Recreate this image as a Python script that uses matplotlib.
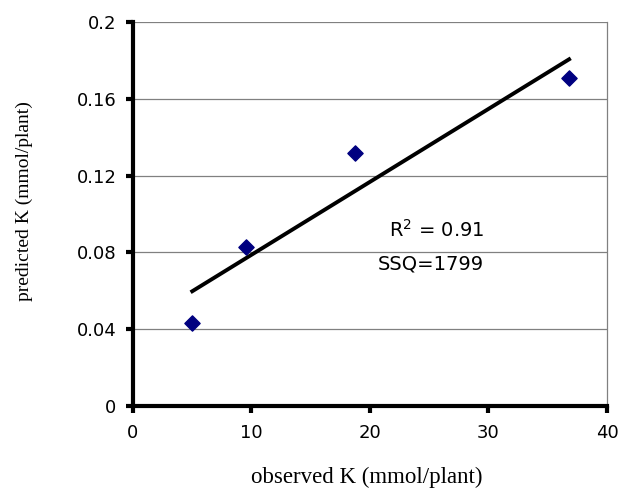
import matplotlib
matplotlib.use('Agg')
from matplotlib import pyplot as plt
import numpy as np

observed = [5.0, 9.5, 18.7, 36.8]
predicted = [0.043, 0.083, 0.132, 0.171]
x_ticks = [0, 10, 20, 30, 40]
y_ticks = [0, 0.04, 0.08, 0.12, 0.16, 0.2]
y_tick_labels = ['0', '0.04', '0.08', '0.12', '0.16', '0.2']

fig = plt.figure(figsize=(6.19, 4.91), dpi=100)
ax = fig.add_axes([133/619, 85/491, 474/619, 384/491])

ax.set_xlim(0, 40)
ax.set_ylim(0, 0.2)

for yt in y_ticks[1:]:
    ax.axhline(yt, color='#808080', lw=0.9, zorder=1)

# trendline
slope, icpt = np.polyfit(observed, predicted, 1)
xs = np.array([min(observed), max(observed)])
ax.plot(xs, slope * xs + icpt, color='black', lw=2.8, zorder=2)

ax.scatter(observed, predicted, marker='D', s=60, color='#000080', zorder=3)

ax.text(25.6, 0.0917, r'R$^2$ = 0.91', ha='center', va='center',
        fontsize=14, family='DejaVu Sans')
ax.text(25.1, 0.074, 'SSQ=1799', ha='center', va='center',
        fontsize=14, family='DejaVu Sans')

ax.set_xticks(x_ticks)
ax.set_yticks(y_ticks)
ax.set_yticklabels(y_tick_labels)
for lab in ax.get_xticklabels() + ax.get_yticklabels():
    lab.set_family('DejaVu Sans')
    lab.set_fontsize(13)

ax.spines['left'].set_linewidth(3)
ax.spines['bottom'].set_linewidth(3)
ax.spines['top'].set_visible(False)
ax.spines['right'].set_color('#808080')
ax.spines['right'].set_linewidth(0.9)
ax.tick_params(direction='out', length=5, width=3)
ax.tick_params(axis='y', pad=7)
ax.tick_params(axis='x', pad=8)

ax.set_xlabel('observed K (mmol/plant)', family='Liberation Serif',
              fontsize=16.5, va='center')
ax.xaxis.set_label_coords(0.494, -0.185)
ax.set_ylabel('predicted K (mmol/plant)', family='Liberation Serif',
              fontsize=14, va='center')
ax.yaxis.set_label_coords(-0.23, 0.534)

fig.savefig('out.png', dpi=100)
